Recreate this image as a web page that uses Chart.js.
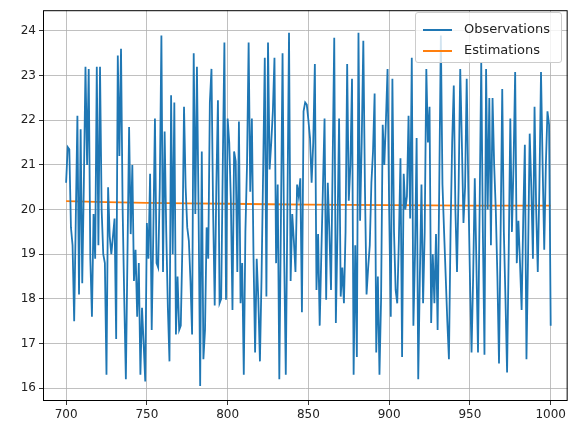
<!DOCTYPE html>
<html><head><meta charset="utf-8">
<script src="https://cdn.jsdelivr.net/npm/chart.js@4/dist/chart.umd.min.js"></script>
<style>
html,body{margin:0;padding:0;background:#fff;}
#wrap{position:relative;width:569px;height:429px;}
#legend{position:absolute;left:415px;top:12px;width:147px;height:51px;background:rgba(255,255,255,0.8);border:1px solid #cccccc;border-radius:3px;box-sizing:border-box;font-family:"DejaVu Sans",sans-serif;font-size:13px;color:#222;}
.item{position:absolute;left:7px;height:16px;}
.item span.l{position:absolute;left:0;top:7px;width:29px;height:2px;}
.item span.t{position:absolute;left:41px;top:-1px;white-space:nowrap;}
</style></head>
<body><div id="wrap"><canvas id="c" width="569" height="429"></canvas>
<div id="legend">
<div class="item" style="top:9px"><span class="l" style="background:#1f77b4"></span><span class="t">Observations</span></div>
<div class="item" style="top:30px"><span class="l" style="background:#ff7f0e"></span><span class="t">Estimations</span></div>
</div></div>
<script>
const startX = 700;
const observations = [
20.6, 21.4, 21.35, 19.6, 19.2, 17.5, 19.8, 22.1, 18.1, 21.8,
18.35, 20.6, 23.2, 21.0, 23.15, 18.9, 17.6, 19.9, 18.9, 23.2,
19.2, 23.2, 20.0, 19.0, 18.8, 16.3, 20.5, 19.4, 19.0, 19.4,
19.8, 17.1, 23.45, 21.2, 23.6, 20.0, 18.0, 16.2, 19.0, 21.85,
19.45, 21.0, 18.4, 19.1, 17.6, 18.8, 16.3, 17.8, 17.0, 16.15,
19.7, 18.9, 20.8, 17.3, 19.5, 22.04, 18.8, 18.7, 20.5, 23.9,
18.6, 21.75, 19.5, 17.8, 16.6, 22.56, 19.0, 22.4, 17.2, 18.5,
17.3, 17.4, 19.2, 22.3, 20.5, 19.6, 19.3, 18.4, 17.2, 23.5,
19.9, 23.2, 20.0, 16.05, 21.3, 16.65, 17.3, 19.6, 18.9, 22.4,
23.15, 20.0, 17.85, 20.5, 22.45, 17.9, 18.0, 21.0, 23.74, 17.98,
22.04, 21.5, 20.2, 17.75, 21.3, 21.08, 18.6, 21.97, 17.9, 18.8,
16.3, 19.5, 21.0, 23.74, 20.4, 22.04, 19.0, 16.8, 18.9, 18.0,
16.6, 18.5, 20.9, 23.4, 18.05, 23.74, 20.9, 21.5, 22.2, 23.4,
18.8, 20.56, 16.2, 19.8, 23.5, 19.0, 16.3, 20.0, 23.96, 18.4,
19.9, 19.3, 18.6, 20.56, 20.3, 20.7, 17.7, 22.2, 22.4, 22.35,
22.0, 21.6, 20.6, 21.5, 23.26, 18.2, 19.45, 17.4, 19.0, 20.5,
22.04, 17.98, 20.6, 19.5, 18.2, 21.0, 23.85, 17.46, 19.5, 22.04,
18.05, 18.7, 17.9, 19.5, 23.26, 20.2, 21.0, 22.93, 16.3, 19.2,
16.7, 23.96, 19.75, 21.5, 23.78, 20.5, 18.1, 18.7, 19.2, 20.6,
21.3, 22.6, 16.8, 18.5, 16.3, 18.0, 21.9, 21.0, 22.0, 23.15,
20.0, 17.6, 22.93, 19.5, 18.2, 17.9, 19.3, 21.15, 16.7, 20.8,
20.0, 20.3, 22.1, 19.8, 23.4, 17.4, 19.0, 21.6, 16.2, 18.5,
20.56, 17.9, 19.5, 23.15, 21.5, 22.3, 17.46, 19.0, 17.9, 19.45,
17.3, 20.5, 23.9, 20.56, 19.5, 18.5, 17.5, 16.65, 19.5, 21.5,
22.78, 20.0, 18.6, 20.5, 23.15, 21.5, 19.7, 20.5, 22.93, 20.5,
18.5, 16.8, 18.5, 20.7, 18.8, 16.8, 20.0, 23.3, 19.5, 16.75,
23.15, 20.0, 22.5, 19.2, 22.5, 21.0, 20.0, 18.5, 16.55, 19.5,
22.7, 19.5, 18.0, 16.35, 19.0, 22.04, 19.5, 21.0, 23.08, 18.8,
19.75, 18.8, 17.75, 19.8, 21.45, 16.65, 19.0, 21.7, 20.5, 18.9,
22.3, 20.0, 18.6, 20.5, 23.08, 21.0, 19.1, 21.0, 22.2, 21.9,
17.4
];
const estimationX = [700, 750, 800, 850, 900, 950, 1000];
const estimations = [20.19, 20.15, 20.13, 20.11, 20.10, 20.09, 20.09];
const xTicks = [700, 750, 800, 850, 900, 950, 1000];
const yTicks = [16, 17, 18, 19, 20, 21, 22, 23, 24];

const obsData = observations.map((v, i) => ({x: startX + i, y: v}));
const estData = estimations.map((v, i) => ({x: estimationX[i], y: v}));

const frame = {
  id: 'frame',
  afterDatasetsDraw(chart) {
    const a = chart.chartArea, ctx = chart.ctx;
    ctx.save();
    ctx.strokeStyle = '#000';
    ctx.lineWidth = 1;
    ctx.strokeRect(a.left + 0.5, a.top + 0.5, a.right - a.left - 1, a.bottom - a.top - 1);
    ctx.restore();
  }
};

const font = {family: 'DejaVu Sans', size: 12};
new Chart(document.getElementById('c'), {
  type: 'line',
  data: {datasets: [
    {label: 'Observations', data: obsData, borderColor: '#1f77b4', borderWidth: 1.8, pointRadius: 0, tension: 0, fill: false},
    {label: 'Estimations', data: estData, borderColor: '#ff7f0e', borderWidth: 1.8, pointRadius: 0, tension: 0.4, fill: false}
  ]},
  options: {
    responsive: false, animation: false,
    layout: {padding: {top: 5, right: 1, left: 0, bottom: 0}},
    plugins: {legend: {display: false}, tooltip: {enabled: false}},
    scales: {
      x: {type: 'linear', min: 685.7, max: 1010.5,
        afterBuildTicks: s => { s.ticks = xTicks.map(v => ({value: v})); },
        afterFit: s => { s.height = 28; },
        ticks: {color: '#222', font: font, padding: 3, maxRotation: 0, callback: v => String(v)},
        grid: {color: '#b0b0b0', lineWidth: 0.8, tickLength: 4, tickColor: '#000'},
        border: {display: false}
      },
      y: {min: 15.712, max: 24.465,
        afterBuildTicks: s => { s.ticks = yTicks.map(v => ({value: v})); },
        afterFit: s => { s.width = 43; },
        ticks: {color: '#222', font: font, padding: 3, callback: v => String(v)},
        grid: {color: '#b0b0b0', lineWidth: 0.8, tickLength: 4, tickColor: '#000'},
        border: {display: false}
      }
    }
  },
  plugins: [frame]
});
</script></body></html>
